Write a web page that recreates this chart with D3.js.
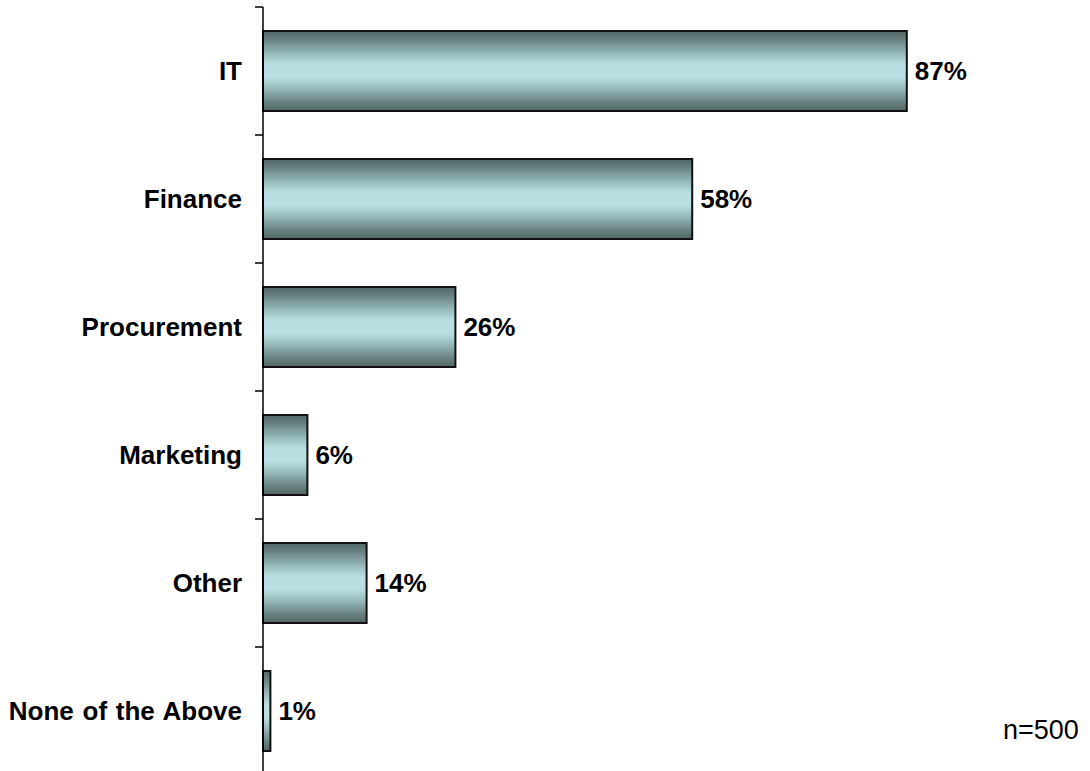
<!DOCTYPE html>
<html>
<head>
<meta charset="utf-8">
<script src="https://cdn.jsdelivr.net/npm/d3@7"></script>
<style>
  html, body { margin: 0; padding: 0; background: #fff; }
  svg { display: block; font-family: "Liberation Sans", Arial, sans-serif; }
</style>
</head>
<body>
<svg id="chart" width="1090" height="771"></svg>
<script>
// Departments and share of respondents (%)
const categories = ["IT", "Finance", "Procurement", "Marketing", "Other", "None of the Above"];
const values = [87, 58, 26, 6, 14, 1];
const valueLabels = ["87%", "58%", "26%", "6%", "14%", "1%"];
const sampleNote = "n=500";

const svg = d3.select("#chart");
const axisX = 263;

const x = d3.scaleLinear().domain([0, 100]).range([axisX, 1003]);
const y = d3.scaleBand()
  .domain(categories)
  .range([7, 775])
  .paddingInner(0.375)
  .paddingOuter(0.1875);

// Vertical metallic gradient used to fill the bars
const defs = svg.append("defs");
const grad = defs.append("linearGradient")
  .attr("id", "barFill")
  .attr("x1", 0).attr("y1", 0).attr("x2", 0).attr("y2", 1);
[
  [0, "#516564"],
  [0.12, "#6b8584"],
  [0.3, "#9bbfc1"],
  [0.42, "#b9dfe2"],
  [0.58, "#b9dfe2"],
  [0.7, "#9bbfc1"],
  [0.88, "#6b8584"],
  [1, "#516564"]
].forEach(([o, c]) => grad.append("stop").attr("offset", o).attr("stop-color", c));

// Bars
svg.append("g").selectAll("rect")
  .data(categories)
  .join("rect")
  .attr("x", x(0))
  .attr("y", d => y(d))
  .attr("width", (d, i) => x(values[i]) - x(0))
  .attr("height", y.bandwidth())
  .attr("fill", "url(#barFill)")
  .attr("stroke", "#111")
  .attr("stroke-width", 2);

// Category axis: line with ticks at band boundaries
const step = y.step();
const tickYs = d3.range(categories.length + 1).map(i => y.range()[0] + i * step);
const axisG = svg.append("g");
axisG.append("line")
  .attr("x1", axisX).attr("x2", axisX)
  .attr("y1", tickYs[0]).attr("y2", tickYs[tickYs.length - 1])
  .attr("stroke", "#000").attr("stroke-width", 1.5);
axisG.selectAll("line.tick")
  .data(tickYs)
  .join("line")
  .attr("class", "tick")
  .attr("x1", axisX - 8).attr("x2", axisX)
  .attr("y1", d => d).attr("y2", d => d)
  .attr("stroke", "#000").attr("stroke-width", 1.5);

// Category labels
svg.append("g").selectAll("text")
  .data(categories)
  .join("text")
  .attr("x", 242)
  .attr("y", d => y(d) + y.bandwidth() / 2)
  .attr("dy", "0.35em")
  .attr("text-anchor", "end")
  .attr("font-size", 26)
  .attr("font-weight", "bold")
  .attr("word-spacing", 1.5)
  .attr("fill", "#000")
  .text(d => d);

// Value labels
svg.append("g").selectAll("text")
  .data(categories)
  .join("text")
  .attr("x", (d, i) => x(values[i]) + 8)
  .attr("y", d => y(d) + y.bandwidth() / 2)
  .attr("dy", "0.35em")
  .attr("font-size", 26)
  .attr("font-weight", "bold")
  .attr("fill", "#000")
  .text((d, i) => valueLabels[i]);

// Sample size note
svg.append("text")
  .attr("x", 1003)
  .attr("y", 739)
  .attr("font-size", 27)
  .attr("fill", "#000")
  .text(sampleNote);
</script>
</body>
</html>
